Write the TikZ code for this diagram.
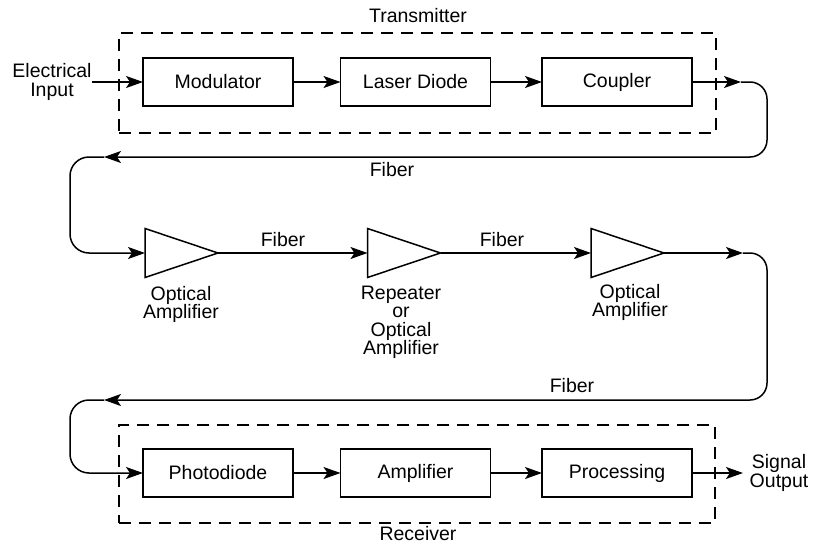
\documentclass[tikz,border=0pt]{standalone}
\usepackage{fontspec}
\setmainfont{Liberation Sans}
\usetikzlibrary{arrows.meta}
\begin{document}
\begin{tikzpicture}[x=1pt,y=-1pt,
  every node/.style={font=\fontsize{19.5}{18.5}\selectfont, inner sep=0pt, outer sep=0pt},
  conn/.style={line width=1.5pt},
  arr/.style={-{Stealth[length=17pt,width=12pt,inset=4pt]}},
  blk/.style={draw, line width=1.8pt, minimum width=150pt, minimum height=48pt},
  amp/.style={minimum width=73pt, minimum height=49pt},
  dashbox/.style={draw, line width=1.5pt, dash pattern=on 12pt off 8pt},
  lbl/.style={align=center}
]
\useasboundingbox (0,0) rectangle (814,546);

% dashed enclosures
\node[dashbox, minimum width=597pt, minimum height=100pt] (tx) at (417.5,83) {};
\node[dashbox, minimum width=596pt, minimum height=98pt] (rx) at (417,474) {};
\node (txl) at (418,16) {Transmitter};
\node (rxl) at (418,534) {Receiver};

% transmitter blocks
\node[blk] (mod) at (218,82) {Modulator};
\node[blk] (ld) at (415.5,82) {Laser Diode};
\node[blk] (cp) at (617,82) {Coupler};
\node[lbl] (ein) at (52,82) {Electrical\\Input};

% amplifiers
\node[amp] (t1) at (181.5,253) {};
\node[amp] (t2) at (404,253) {};
\node[amp] (t3) at (627.5,253) {};
\foreach \t in {t1,t2,t3}
  \draw[conn, line join=miter] (\t.north west) -- (\t.east) -- (\t.south west) -- cycle;
\node[lbl, anchor=north] (l1) at (181,286) {Optical\\Amplifier};
\node[lbl, anchor=north] (l2) at (401,286) {Repeater\\or\\Optical\\Amplifier};
\node[lbl, anchor=north] (l3) at (630,284) {Optical\\Amplifier};

% receiver blocks
\node[blk] (pd) at (218,473) {Photodiode};
\node[blk] (am) at (415.5,473) {Amplifier};
\node[blk] (pr) at (617,473) {Processing};
\node[lbl] (sout) at (779,473) {Signal\\Output};

% fiber labels
\node (f1) at (392,170) {Fiber};
\node (f2) at (283,240) {Fiber};
\node (f3) at (502,240) {Fiber};
\node (f4) at (572,386) {Fiber};

% routing points
\coordinate (k1) at (741,82);
\coordinate (k2) at (767,82);
\coordinate (k3) at (767,157);
\coordinate (k4) at (104,157);
\coordinate (k5) at (70,157);
\coordinate (k6) at (70,253);
\coordinate (m1) at (743,253);
\coordinate (m2) at (767,253);
\coordinate (m3) at (767,400);
\coordinate (m4) at (104,400);
\coordinate (m5) at (70,400);
\coordinate (m6) at (70,473);
\coordinate (so) at (743,473);

% connectors
\draw[conn, arr] (ein.east |- mod.west) -- (mod.west);
\draw[conn, arr] (mod) -- (ld);
\draw[conn, arr] (ld) -- (cp);
\draw[conn, arr] (cp.east) -- (k1);
\draw[conn, arr, rounded corners=17pt] (k1) -- (k2) -- (k3) -- (k4);
\draw[conn, arr, rounded corners=19pt] (k4) -- (k5) -- (k6) -- (t1.west);
\draw[conn, arr] (t1.east) -- (t2.west);
\draw[conn, arr] (t2.east) -- (t3.west);
\draw[conn, arr] (t3.east) -- (m1);
\draw[conn, arr, rounded corners=17pt] (m1) -- (m2) -- (m3) -- (m4);
\draw[conn, arr, rounded corners=19pt] (m4) -- (m5) -- (m6) -- (pd.west);
\draw[conn, arr] (pd) -- (am);
\draw[conn, arr] (am) -- (pr);
\draw[conn, arr] (pr.east) -- (so);
\end{tikzpicture}
\end{document}
